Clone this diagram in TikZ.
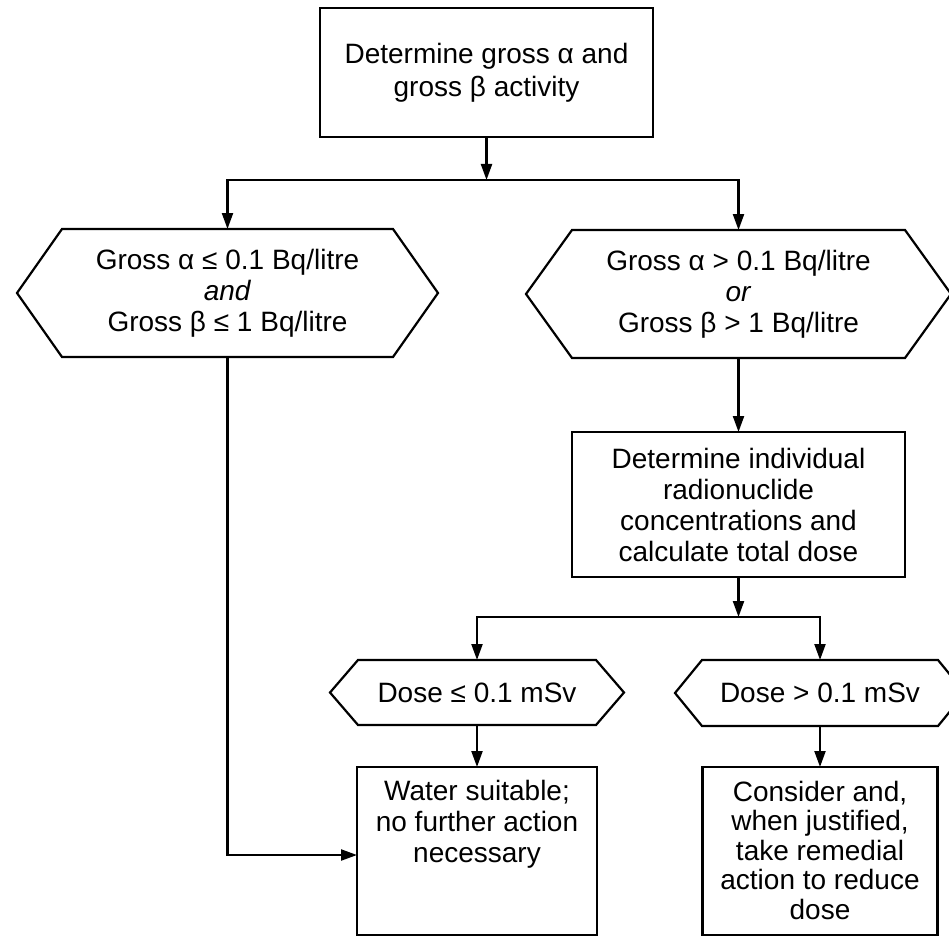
\documentclass[tikz,border=0pt]{standalone}
\usepackage{fontspec}
\setmainfont{Liberation Sans}
\usetikzlibrary{arrows.meta}
\newcommand\myhexoutline[2]{\draw[ln,line join=miter] ([xshift=-#2pt]#1.west) -- (#1.north west) -- (#1.north east) -- ([xshift=#2pt]#1.east) -- (#1.south east) -- (#1.south west) -- cycle;}
\begin{document}
\begin{tikzpicture}[x=1pt,y=-1pt,
  ln/.style={line width=2.2pt},
  arr/.style={line width=2.2pt,-{Triangle[length=16pt,width=11pt]}},
  box/.style={draw,line width=2.2pt,inner sep=0pt,outer sep=0pt,align=center},
  hexa/.style={inner sep=0pt,outer sep=0pt,align=center},
  txt/.style={font=\fontsize{28}{31}\selectfont},
  txtb/.style={font=\fontsize{28}{29.5}\selectfont}]
\useasboundingbox (0,0) rectangle (949,936);
% boxes
\node[box,txt,minimum width=333pt,minimum height=129pt] (top) at (486.5,72.5) {Determine gross α and\\[2pt]gross β activity};
\node[hexa,txt,minimum width=331pt,minimum height=128pt] (h1) at (227.5,293) {Gross α ≤ 0.1 Bq/litre\\\textit{and}\\Gross β ≤ 1 Bq/litre};
\node[hexa,txt,minimum width=333pt,minimum height=128pt] (h2) at (738.5,294) {Gross α > 0.1 Bq/litre\\\textit{or}\\Gross β > 1 Bq/litre};
\node[box,txt,minimum width=333pt,minimum height=145pt] (calc) at (738.5,504.5) {Determine individual\\radionuclide\\concentrations and\\calculate total dose};
\node[hexa,txt,minimum width=238pt,minimum height=65pt] (d1) at (477,692.5) {Dose ≤ 0.1 mSv};
\node[hexa,txt,minimum width=236pt,minimum height=66pt] (d2) at (820,693) {Dose > 0.1 mSv};
\node[box,minimum width=240pt,minimum height=168pt] (b1) at (477,851) {};
\node[box,minimum width=235pt,minimum height=168pt] (b2) at (820,851) {};
\node[txt,inner sep=0pt,anchor=north,align=center] (t1) at ([yshift=-12.5pt]b1.north) {Water suitable;\\no further action\\necessary};
\node[txtb,inner sep=0pt,anchor=north,align=center] (t2) at ([yshift=-13.5pt]b2.north) {Consider and,\\when justified,\\take remedial\\action to reduce\\dose};
% hexagon outlines
\myhexoutline{h1}{45}
\myhexoutline{h2}{46}
\myhexoutline{d1}{28}
\myhexoutline{d2}{27}
% connectors
\coordinate (j1) at (top.south |- 0,180);
\coordinate (j2) at (calc.south |- 0,617);
\draw[arr] (top.south) -- (j1);
\draw[arr] (j1) -| (h1.north);
\draw[arr] (j1) -| (h2.north);
\draw[arr] (h2.south) -- (calc.north);
\draw[arr] (calc.south) -- (j2);
\draw[arr] (j2) -| (d1.north);
\draw[arr] (j2) -| (d2.north);
\draw[arr] (d1.south) -- (b1.north);
\draw[arr] (d2.south) -- (b2.north);
\draw[arr] (h1.south) |- ([yshift=-4pt]b1.west);
\end{tikzpicture}
\end{document}
